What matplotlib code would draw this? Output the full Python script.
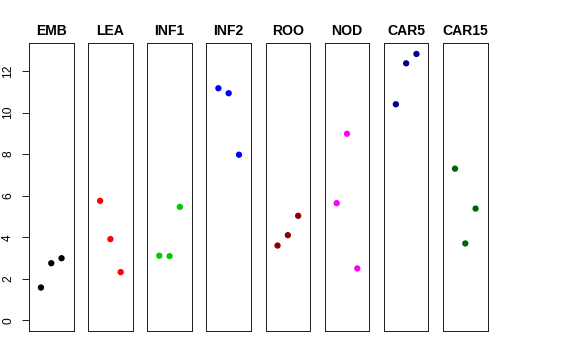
import matplotlib
matplotlib.use("Agg")
import matplotlib.pyplot as plt

plt.rcParams['font.family'] = ['Liberation Sans', 'DejaVu Sans']

tissues = ["EMB", "LEA", "INF1", "INF2", "ROO", "NOD", "CAR5", "CAR15"]
colors = ["#000000", "#FF0000", "#00CD00", "#0000FF", "#8B0000", "#FF00FF", "#00008B", "#006400"]
reps = [1, 2, 3]
emb = [1.58, 2.75, 2.99]
lea = [5.75, 3.91, 2.32]
inf1 = [3.11, 3.09, 5.46]
inf2 = [11.17, 10.93, 7.97]
roo = [3.60, 4.10, 5.03]
nod = [5.64, 8.98, 2.50]
car5 = [10.40, 12.37, 12.82]
car15 = [7.30, 3.70, 5.38]
values = [emb, lea, inf1, inf2, roo, nod, car5, car15]
yticks = [0, 2, 4, 6, 8, 10, 12]

W, H = 576, 360
fig = plt.figure(figsize=(W / 72, H / 72), dpi=72)

ymax = max(max(v) for v in values)
ymin = 0.0
yr = ymax - ymin
xlo, xhi = 0, 4
xr = xhi - xlo

left0 = 29.0
pitch = 59.15
pw = 44.5
top = 43.3
bot = 331.0

for i, (name, col, vals) in enumerate(zip(tissues, colors, values)):
    x0 = left0 + i * pitch
    ax = fig.add_axes([x0 / W, 1 - bot / H, pw / W, (bot - top) / H])
    ax.scatter(reps, vals, s=40, color=col, edgecolors='none', zorder=3)
    ax.set_xlim(xlo - 0.04 * xr, xhi + 0.04 * xr)
    ax.set_ylim(ymin - 0.04 * yr, ymax + 0.04 * yr)
    ax.set_xticks([])
    for sp in ax.spines.values():
        sp.set_linewidth(1.0)
        sp.set_color('#222222')
    ax.set_title(name, fontsize=14, fontweight='bold', pad=8)
    if i == 0:
        ax.set_yticks(yticks)
        ax.set_yticklabels([str(t) for t in yticks], rotation=90, va='center', fontsize=12)
        ax.tick_params(axis='y', length=7, width=1, pad=8, color='#222222')
    else:
        ax.set_yticks([])

fig.savefig("out.png", dpi=72)
